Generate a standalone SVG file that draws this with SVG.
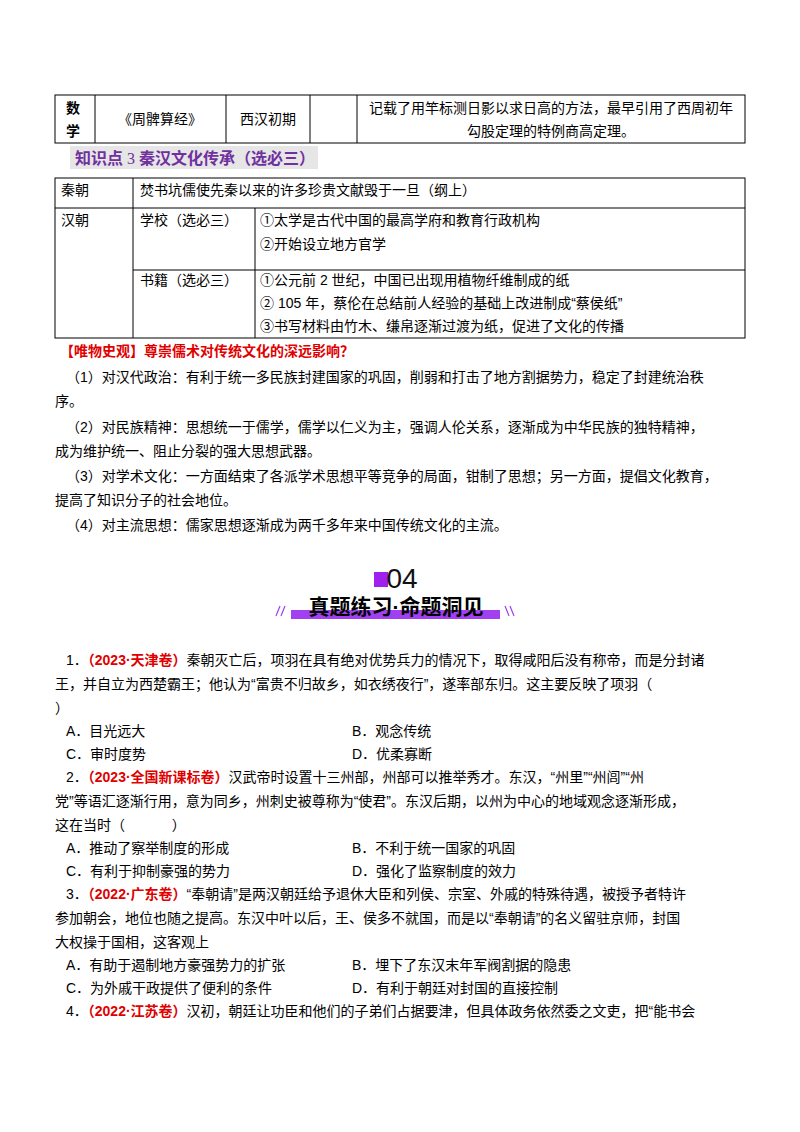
<svg xmlns="http://www.w3.org/2000/svg" width="800" height="1132" viewBox="0 0 800 1132">
<style>
text{font-family:"Liberation Sans","Noto Sans CJK SC",sans-serif;font-size:14px;fill:#000}
.b{font-weight:bold}
.r{fill:#e00000;font-weight:bold}
line,rect.t{stroke:#000;stroke-width:1;fill:none}
</style>
<rect width="800" height="1132" fill="#fff"/>
<g id="table1">
<rect class="t" x="55" y="95" width="690" height="48"/>
<line x1="95" y1="95" x2="95" y2="143"/><line x1="226" y1="95" x2="226" y2="143"/>
<line x1="310" y1="95" x2="310" y2="143"/><line x1="357" y1="95" x2="357" y2="143"/>
<text x="66" y="113" class="b">数</text><text x="66" y="136" class="b">学</text>
<text x="160" y="124" text-anchor="middle">《周髀算经》</text>
<text x="268" y="124" text-anchor="middle">西汉初期</text>
<text x="551" y="113" text-anchor="middle">记载了用竿标测日影以求日高的方法，最早引用了西周初年</text>
<text x="551" y="136" text-anchor="middle">勾股定理的特例商高定理。</text>
</g>
<g id="heading3">
<rect x="70" y="146" width="248" height="23" fill="#e6e6e6"/>
<text x="75" y="164" class="b" style="fill:#7030a0;font-size:16px">知识点<tspan style="font-weight:normal;font-family:'Liberation Serif',serif"> 3 </tspan> 秦汉文化传承（选必三）</text>
</g>
<g id="table2">
<rect class="t" x="55" y="178" width="690" height="160"/>
<line x1="55" y1="208" x2="745" y2="208"/>
<line x1="133" y1="270" x2="745" y2="270"/>
<line x1="133" y1="178" x2="133" y2="338"/>
<line x1="255" y1="208" x2="255" y2="338"/>
<text x="61" y="195">秦朝</text>
<text x="140" y="195">焚书坑儒使先秦以来的许多珍贵文献毁于一旦（纲上）</text>
<text x="61" y="225">汉朝</text>
<text x="140" y="225">学校（选必三）</text>
<text x="260" y="225">①太学是古代中国的最高学府和教育行政机构</text>
<text x="260" y="249">②开始设立地方官学</text>
<text x="140" y="285">书籍（选必三）</text>
<text x="260" y="285">①公元前 2 世纪，中国已出现用植物纤维制成的纸</text>
<text x="260" y="308">② 105 年，蔡伦在总结前人经验的基础上改进制成“蔡侯纸”</text>
<text x="260" y="331">③书写材料由竹木、缣帛逐渐过渡为纸，促进了文化的传播</text>
</g>
<g id="body">
<text x="60" y="356" class="r">【唯物史观】尊崇儒术对传统文化的深远影响？</text>
<text x="66" y="382">（1）对汉代政治：有利于统一多民族封建国家的巩固，削弱和打击了地方割据势力，稳定了封建统治秩</text>
<text x="55" y="406">序。</text>
<text x="66" y="432">（2）对民族精神：思想统一于儒学，儒学以仁义为主，强调人伦关系，逐渐成为中华民族的独特精神，</text>
<text x="55" y="456">成为维护统一、阻止分裂的强大思想武器。</text>
<text x="66" y="481">（3）对学术文化：一方面结束了各派学术思想平等竞争的局面，钳制了思想；另一方面，提倡文化教育，</text>
<text x="55" y="505">提高了知识分子的社会地位。</text>
<text x="66" y="530">（4）对主流思想：儒家思想逐渐成为两千多年来中国传统文化的主流。</text>
</g>
<g id="banner">
<rect x="374" y="572" width="14" height="15" fill="#a020f0"/>
<text x="402" y="588" text-anchor="middle" style="font-size:28px;fill:#111">04</text>
<rect x="291" y="610" width="209" height="9" fill="#a040f0"/>
<text x="396" y="614" text-anchor="middle" class="b" style="font-size:21px">真题练习·命题洞见</text>
<path d="M280 606 l-4 10 M285 606 l-4 10 M505 606 l4 10 M510 606 l4 10" stroke="#a040f0" stroke-width="1.2"/>
</g>
<g id="questions">
<text x="66" y="665">1．<tspan class="r">（2023·天津卷）</tspan>秦朝灭亡后，项羽在具有绝对优势兵力的情况下，取得咸阳后没有称帝，而是分封诸</text>
<text x="55" y="689">王，并自立为西楚霸王；他认为“富贵不归故乡，如衣绣夜行”，遂率部东归。这主要反映了项羽（</text>
<text x="55" y="713">）</text>
<text x="66" y="736">A．目光远大</text><text x="352" y="736">B．观念传统</text>
<text x="66" y="759">C．审时度势</text><text x="352" y="759">D．优柔寡断</text>
<text x="66" y="782">2．<tspan class="r">（2023·全国新课标卷）</tspan>汉武帝时设置十三州部，州部可以推举秀才。东汉，“州里”“州闾”“州</text>
<text x="55" y="806">党”等语汇逐渐行用，意为同乡，州刺史被尊称为“使君”。东汉后期，以州为中心的地域观念逐渐形成，</text>
<text x="55" y="830" xml:space="preserve">这在当时（            ）</text>
<text x="66" y="853">A．推动了察举制度的形成</text><text x="352" y="853">B．不利于统一国家的巩固</text>
<text x="66" y="876">C．有利于抑制豪强的势力</text><text x="352" y="876">D．强化了监察制度的效力</text>
<text x="66" y="899">3．<tspan class="r">（2022·广东卷）</tspan>“奉朝请”是两汉朝廷给予退休大臣和列侯、宗室、外戚的特殊待遇，被授予者特许</text>
<text x="55" y="923">参加朝会，地位也随之提高。东汉中叶以后，王、侯多不就国，而是以“奉朝请”的名义留驻京师，封国</text>
<text x="55" y="947">大权操于国相，这客观上</text>
<text x="66" y="970">A．有助于遏制地方豪强势力的扩张</text><text x="352" y="970">B．埋下了东汉末年军阀割据的隐患</text>
<text x="66" y="993">C．为外戚干政提供了便利的条件</text><text x="352" y="993">D．有利于朝廷对封国的直接控制</text>
<text x="66" y="1016">4．<tspan class="r">（2022·江苏卷）</tspan>汉初，朝廷让功臣和他们的子弟们占据要津，但具体政务依然委之文吏，把“能书会</text>
</g>
</svg>
